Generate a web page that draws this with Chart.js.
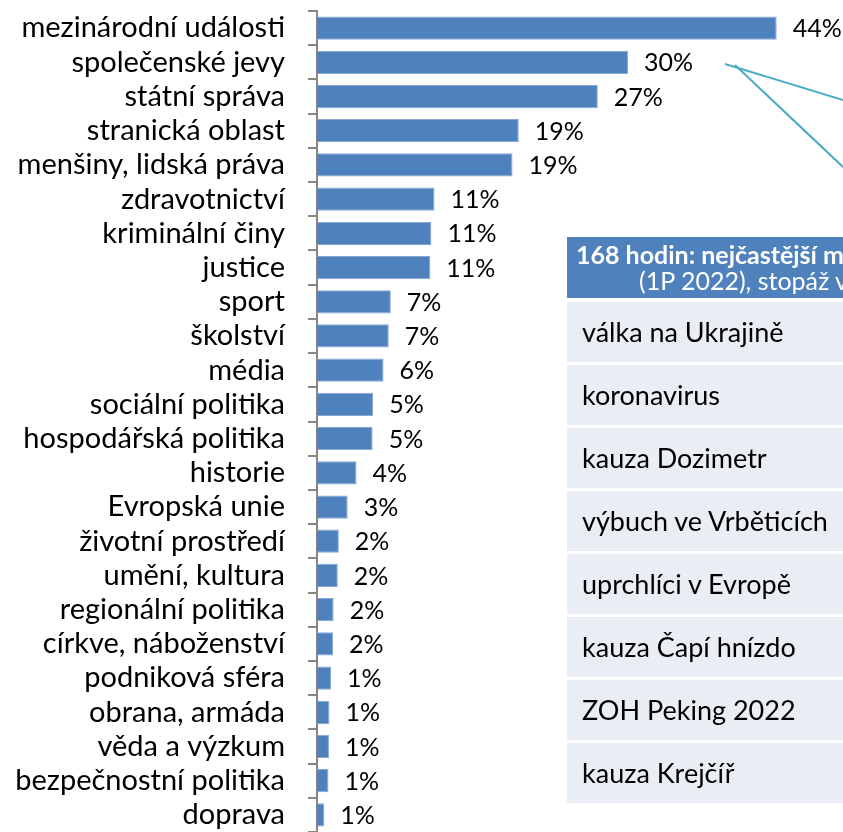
<!DOCTYPE html>
<html>
<head>
<meta charset="utf-8">
<script src="https://cdn.jsdelivr.net/npm/chart.js@4"></script>
<style>
  body { margin: 0; background: #fff; }
  #wrap { position: relative; width: 843px; height: 832px; overflow: hidden; font-family: Lato, sans-serif; }
  #chart { position: absolute; left: 0; top: 0; }
  #lines { position: absolute; left: 0; top: 0; }
  .box { position: absolute; left: 567px; width: 300px; }
  .head { top: 237px; height: 61px; background: #4F81BD; color: #fff; font-size: 25px; }
  .head div { position: absolute; white-space: nowrap; line-height: 1; }
  .row { height: 60px; background: #E9EDF4; font-size: 27px; color: #000; line-height: 60px; padding-left: 15px; box-sizing: border-box; white-space: nowrap; }
</style>
</head>
<body>
<div id="wrap">
  <canvas id="chart" width="843" height="832"></canvas>
  <svg id="lines" width="843" height="832">
    <line x1="725" y1="64" x2="843" y2="100" stroke="#4BACC6" stroke-width="2"/>
    <line x1="735" y1="65" x2="843" y2="167" stroke="#4BACC6" stroke-width="2"/>
  </svg>
  <div class="box head">
    <div style="left:9px; top:5px; font-weight:bold;">168 hodin: nejčastější m</div>
    <div style="left:72px; top:31px;">(1P 2022), stopáž v</div>
  </div>
  <div id="rows"></div>
</div>
<script>
// Categories and shares (%)
const categories = [
  'mezinárodní události', 'společenské jevy', 'státní správa', 'stranická oblast',
  'menšiny, lidská práva', 'zdravotnictví', 'kriminální činy', 'justice', 'sport',
  'školství', 'média', 'sociální politika', 'hospodářská politika', 'historie',
  'Evropská unie', 'životní prostředí', 'umění, kultura', 'regionální politika',
  'církve, náboženství', 'podniková sféra', 'obrana, armáda', 'věda a výzkum',
  'bezpečnostní politika', 'doprava'
];
const shares = [
  44.2, 29.9, 27.0, 19.4, 18.8, 11.3, 11.0, 10.9, 7.1, 6.9, 6.4, 5.4, 5.35, 3.8,
  2.95, 2.1, 2.0, 1.6, 1.55, 1.35, 1.2, 1.15, 1.1, 0.7
];
// Table of most frequent topics (right side)
const topics = [
  'válka na Ukrajině', 'koronavirus', 'kauza Dozimetr', 'výbuch ve Vrběticích',
  'uprchlíci v Evropě', 'kauza Čapí hnízdo', 'ZOH Peking 2022', 'kauza Krejčíř'
];

// Build table rows
const rowsEl = document.getElementById('rows');
topics.forEach((t, i) => {
  const d = document.createElement('div');
  d.className = 'box row';
  d.style.top = (302 + i * 63) + 'px';
  d.textContent = t;
  rowsEl.appendChild(d);
});

// Percent labels next to bars
const valueLabels = {
  id: 'valueLabels',
  afterDatasetsDraw(chart) {
    const ctx = chart.ctx;
    const meta = chart.getDatasetMeta(0);
    ctx.save();
    ctx.font = '25px Lato';
    ctx.fillStyle = '#000';
    ctx.textBaseline = 'middle';
    meta.data.forEach((bar, i) => {
      ctx.fillText(Math.round(shares[i]) + '%', bar.x + 16, bar.y + 1);
    });
    ctx.restore();
  }
};

new Chart(document.getElementById('chart'), {
  type: 'bar',
  data: {
    labels: categories,
    datasets: [{
      data: shares,
      backgroundColor: '#4F81BD',
      borderColor: '#85A6D4',
      borderWidth: 1,
      barPercentage: 0.68,
      categoryPercentage: 1
    }]
  },
  options: {
    indexAxis: 'y',
    responsive: false,
    animation: false,
    layout: { padding: { top: 11, right: 6, bottom: 0, left: 0 } },
    scales: {
      x: { display: false, min: 0, max: 50 },
      y: {
        afterFit: function(scale) {
          scale.width = 317;
          scale.paddingTop = 0;
          scale.paddingBottom = 0;
        },
        grid: { drawOnChartArea: false, tickLength: 9, color: '#868686', lineWidth: 2 },
        border: { color: '#868686', width: 2 },
        ticks: { color: '#000', font: { family: 'Lato', size: 29 }, padding: 23, autoSkip: false }
      }
    },
    plugins: { legend: { display: false }, tooltip: { enabled: false } }
  },
  plugins: [valueLabels]
});
</script>
</body>
</html>
